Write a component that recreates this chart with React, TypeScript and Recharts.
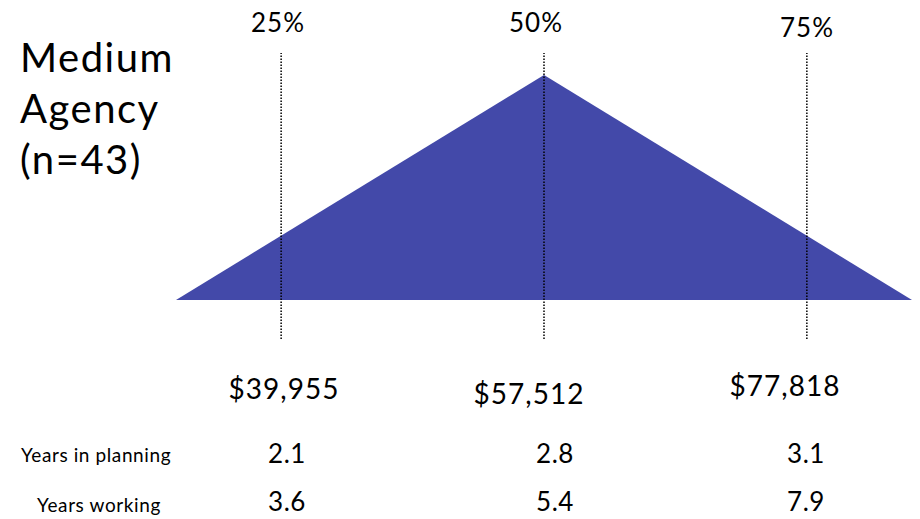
import { AreaChart, Area, XAxis, YAxis, ReferenceLine } from 'recharts'

// percentile position -> height of the distribution shape
const SHAPE_X = [15, 50, 85]
const SHAPE_Y = [0, 100, 0]
const PERCENTILES = [25, 50, 75]
const PERCENT_LABELS = ['25%', '50%', '75%']
const SALARIES = ['$39,955', '$57,512', '$77,818']
const YEARS_PLANNING = ['2.1', '2.8', '3.1']
const YEARS_WORKING = ['3.6', '5.4', '7.9']
const TITLE_LINES = ['Medium', 'Agency', '(n=43)']

const FILL = '#4349a9'
const FONT = 'Lato, "Open Sans", sans-serif'

const data = SHAPE_X.map((p, i) => ({ p, v: SHAPE_Y[i] }))

// rough text placements
const pctPos = [
  { x: 278, y: 32 },
  { x: 536, y: 32 },
  { x: 807, y: 37 },
]
const salaryPos = [
  { x: 284, y: 399 },
  { x: 529, y: 404 },
  { x: 785, y: 396 },
]
const colX = [287, 555, 806]

export default function App() {
  return (
    <div style={{ position: 'absolute', left: 0, top: 0, width: 920, height: 519, background: '#fff' }}>
      <AreaChart
        width={920}
        height={519}
        data={data}
        margin={{ top: 53, right: 8, left: 176, bottom: 180 }}
      >
        <XAxis dataKey="p" type="number" domain={[15, 85]} hide />
        <YAxis type="number" domain={[-17.33, 109.78]} hide />
        <Area
          dataKey="v"
          type="linear"
          stroke="none"
          fill={FILL}
          fillOpacity={1}
          baseValue={0}
          isAnimationActive={false}
          dot={false}
          activeDot={false}
        />
        {PERCENTILES.map(p => (
          <ReferenceLine
            key={p}
            x={p}
            stroke="#000"
            strokeWidth={1.5}
            strokeDasharray="1.5 1.5"
          />
        ))}
      </AreaChart>
      <svg
        width={920}
        height={519}
        style={{ position: 'absolute', left: 0, top: 0, pointerEvents: 'none' }}
        fontFamily={FONT}
        fill="#000"
      >
        {TITLE_LINES.map((t, i) => (
          <text key={t} x={20} y={72 + i * 51} fontSize={40} letterSpacing={1.5}>
            {t}
          </text>
        ))}
        {PERCENT_LABELS.map((t, i) => (
          <text key={t} x={pctPos[i].x} y={pctPos[i].y} fontSize={26} letterSpacing={1} textAnchor="middle">
            {t}
          </text>
        ))}
        {SALARIES.map((t, i) => (
          <text key={t} x={salaryPos[i].x} y={salaryPos[i].y} fontSize={28} letterSpacing={1} textAnchor="middle">
            {t}
          </text>
        ))}
        <text x={96} y={462} fontSize={19} letterSpacing={0.6} textAnchor="middle">Years in planning</text>
        <text x={99} y={512} fontSize={19} letterSpacing={0.6} textAnchor="middle">Years working</text>
        {YEARS_PLANNING.map((t, i) => (
          <text key={'p' + i} x={colX[i]} y={463} fontSize={26} letterSpacing={0.5} textAnchor="middle">
            {t}
          </text>
        ))}
        {YEARS_WORKING.map((t, i) => (
          <text key={'w' + i} x={colX[i]} y={511} fontSize={26} letterSpacing={0.5} textAnchor="middle">
            {t}
          </text>
        ))}
      </svg>
    </div>
  )
}
